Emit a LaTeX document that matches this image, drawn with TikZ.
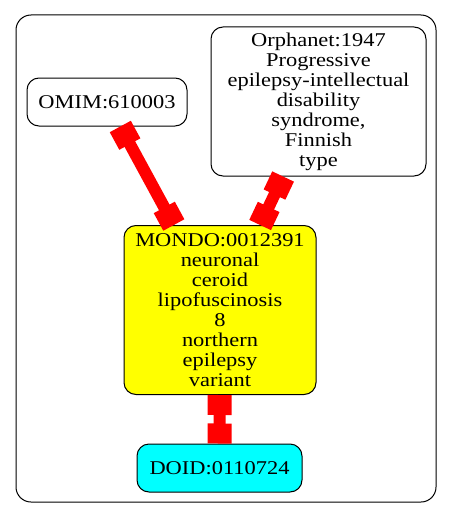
\documentclass[tikz,border=0pt]{standalone}
\usepackage{fontspec}
\setmainfont{Liberation Serif}[FakeStretch=1.15]
\usetikzlibrary{arrows.meta}
\definecolor{gvred}{RGB}{255,0,0}
\definecolor{gvyellow}{RGB}{255,255,0}
\definecolor{gvcyan}{RGB}{0,255,255}
\tikzset{
  box/.style={draw=black, line width=1pt, rounded corners=12pt, align=center,
    inner sep=0pt, font=\fontsize{19.5}{20}\selectfont},
  teeedge/.style={draw=gvred, line width=12pt,
    {Rectangle[length=20pt,width=24pt]}-{Rectangle[length=20pt,width=24pt]}},
}
\begin{document}
\begin{tikzpicture}[x=1pt,y=-1pt]
\useasboundingbox (0,0) rectangle (453,519);
\draw[line width=1pt, rounded corners=15pt] (16,15) rectangle (436,502);
\node[box, fill=white, minimum width=160pt, minimum height=48pt] (omim) at (107,102) {OMIM:610003};
\node[box, fill=white, minimum width=215pt, minimum height=149pt] (orpha) at (318.5,101.5)
  {Orphanet:1947\\Progressive\\epilepsy-intellectual\\disability\\syndrome,\\Finnish\\type};
\node[box, fill=gvyellow, minimum width=192pt, minimum height=169pt] (mondo) at (220,310)
  {MONDO:0012391\\neuronal\\ceroid\\lipofuscinosis\\8\\northern\\epilepsy\\variant};
\node[box, fill=gvcyan, minimum width=165pt, minimum height=48pt] (doid) at (219.5,468) {DOID:0110724};
\path[teeedge] (omim) -- (mondo);
\path[teeedge] (orpha) -- (mondo);
\path[teeedge] (mondo) -- (doid);
\end{tikzpicture}
\end{document}
